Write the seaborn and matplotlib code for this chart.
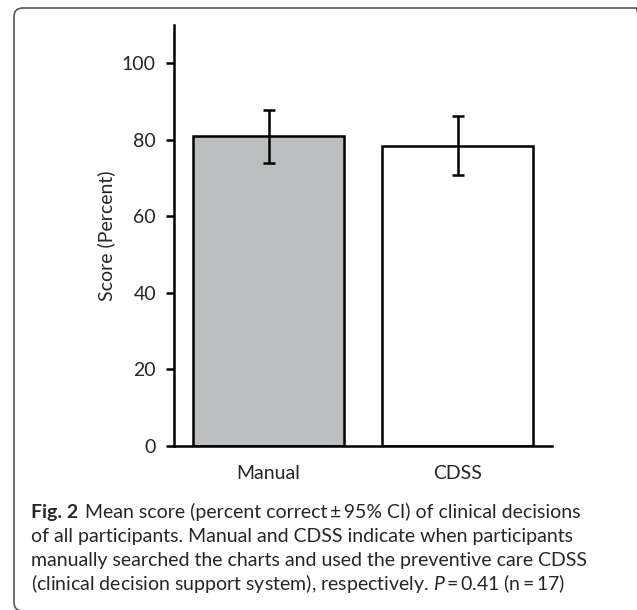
import matplotlib
matplotlib.use("Agg")
import matplotlib.pyplot as plt
import matplotlib.patches as mpatches
import numpy as np
import pandas as pd
import seaborn as sns

# values
groups = ["Manual", "CDSS"]
mean_score = [80.9, 78.5]
ci_low = [74.0, 70.8]
ci_high = [87.9, 86.2]
bar_colors = ["#bcbdbf", "#ffffff"]
y_ticks = [0, 20, 40, 60, 80, 100]

caption_bold = "Fig. 2"
caption_lines = [
    "Mean score (percent correct\u2009\u00b1\u200995% CI) of clinical decisions",
    "of all participants. Manual and CDSS indicate when participants",
    "manually searched the charts and used the preventive care CDSS",
    "(clinical decision support system), respectively. $P$\u2009=\u20090.41 (n\u2009=\u200917)",
]

sns.set_style("white")
plt.rcParams["font.family"] = ["Lato", "DejaVu Sans"]
plt.rcParams["mathtext.fontset"] = "custom"
plt.rcParams["mathtext.it"] = "Lato:italic"
plt.rcParams["mathtext.rm"] = "Lato"

df = pd.DataFrame({"group": groups, "score": mean_score})

W, H = 637, 610
fig = plt.figure(figsize=(W / 100, H / 100), dpi=100)
ax = fig.add_axes([174 / W, 1 - 446 / H, (552 - 174) / W, (446 - 25) / H])

sns.barplot(data=df, x="group", y="score", hue="group", palette=bar_colors,
            edgecolor="black", linewidth=1.8, width=0.8, legend=False, ax=ax)

mean = np.array(mean_score)
yerr = np.vstack([mean - np.array(ci_low), np.array(ci_high) - mean])
ax.errorbar(np.arange(len(groups)), mean, yerr=yerr, fmt="none",
            ecolor="black", elinewidth=1.8, capsize=4, capthick=1.8)

ax.set_xlim(-0.5, 1.5)
ax.set_ylim(0, 110)
ax.set_yticks(y_ticks)
ax.set_xlabel("")
ax.set_ylabel("Score (Percent)", fontsize=14, labelpad=5)
ax.tick_params(axis="y", direction="out", length=6, width=1.8, labelsize=14,
               pad=7, left=True, color="black")
ax.tick_params(axis="x", length=0, labelsize=14, pad=14)
for side in ["top", "right"]:
    ax.spines[side].set_visible(False)
for side in ["left", "bottom"]:
    ax.spines[side].set_color("black")
    ax.spines[side].set_linewidth(1.8)
ax.spines["bottom"].set_bounds(-0.5, 1.5)

# caption
y0 = 1 - 518 / H
dy = 24 / H
x0 = 31 / W
fs = 14
t = fig.text(x0, y0, caption_bold, fontsize=fs, fontweight="bold", va="baseline")
fig.canvas.draw()
bb = t.get_window_extent()
fig.text(bb.x1 / W + 7 / W, y0, caption_lines[0], fontsize=fs, va="baseline")
for i, line in enumerate(caption_lines[1:], start=1):
    fig.text(x0, y0 - i * dy, line, fontsize=fs, va="baseline")

# rounded frame around the figure
frame = mpatches.FancyBboxPatch((14 / W, 1 - 611 / H), (645 - 14) / W, (611 - 8) / H,
                                boxstyle="round,pad=0,rounding_size=0.014",
                                transform=fig.transFigure, fill=False,
                                edgecolor="#555555", linewidth=1.2)
fig.patches.append(frame)

fig.savefig("out.png", dpi=100)
